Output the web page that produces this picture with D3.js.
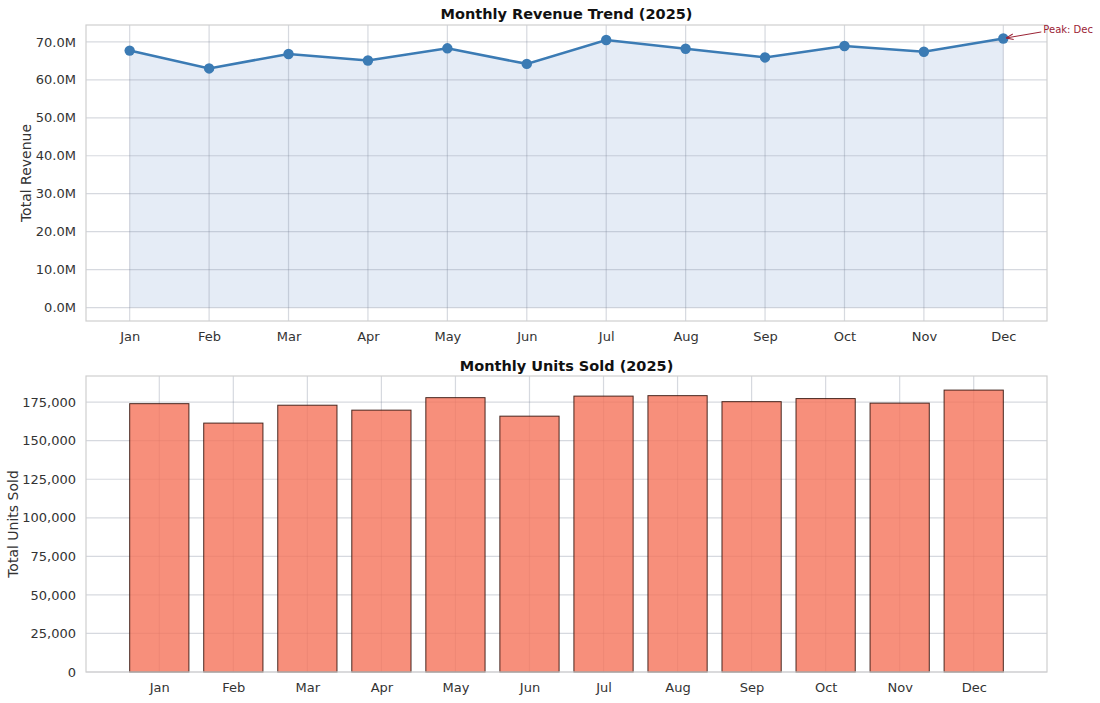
<!DOCTYPE html>
<html>
<head>
<meta charset="utf-8">
<script src="https://cdn.jsdelivr.net/npm/d3@7"></script>
<style>
  body { margin: 0; background: #fff; }
  text { font-family: "DejaVu Sans", sans-serif; }
</style>
</head>
<body>
<svg id="chart" width="1100" height="703"></svg>
<script>
// values
const months = ["Jan", "Feb", "Mar", "Apr", "May", "Jun", "Jul", "Aug", "Sep", "Oct", "Nov", "Dec"];
const revenue = [67.7e6, 63.0e6, 66.8e6, 65.1e6, 68.3e6, 64.2e6, 70.5e6, 68.2e6, 65.9e6, 68.9e6, 67.4e6, 70.9e6];
const units = [174000, 161400, 173000, 169800, 177900, 165900, 178900, 179200, 175300, 177300, 174350, 182800];
const revenueTicks = [0, 10e6, 20e6, 30e6, 40e6, 50e6, 60e6, 70e6];
const unitTicks = [0, 25000, 50000, 75000, 100000, 125000, 150000, 175000];

const svg = d3.select("#chart");
const left = 86, right = 1047;
const gridCol = "rgba(120,130,150,0.3)";

function frame(g, top, bottom) {
    g.append("rect")
        .attr("x", left).attr("y", top)
        .attr("width", right - left).attr("height", bottom - top)
        .attr("fill", "none")
        .attr("stroke", "#cfcfcf")
        .attr("stroke-width", 1.2);
}

function title(txt, y) {
    svg.append("text")
        .attr("x", (left + right) / 2).attr("y", y)
        .attr("text-anchor", "middle")
        .attr("font-size", 14.5).attr("font-weight", "bold")
        .attr("fill", "#111")
        .text(txt);
}

function ylabel(txt, x, cy) {
    svg.append("text")
        .attr("transform", "translate(" + x + "," + cy + ") rotate(-90)")
        .attr("text-anchor", "middle")
        .attr("font-size", 14).attr("fill", "#333")
        .text(txt);
}

// ---------- top: revenue trend ----------
const t1 = 25, b1 = 321;
const x1 = d3.scaleLinear().domain([-0.55, 11.55]).range([left, right]);
const yMax1 = d3.max(revenue);
const y1 = d3.scaleLinear().domain([-0.05 * yMax1, yMax1 * 1.05]).range([b1, t1]);

const g1 = svg.append("g");

const area = d3.area()
    .x((d, i) => x1(i))
    .y0(y1(0))
    .y1(d => y1(d));
g1.append("path")
    .datum(revenue)
    .attr("d", area)
    .attr("fill", "#e5ecf6");

// grid on top of fill, semi transparent
g1.selectAll(".hg").data(revenueTicks).enter().append("line")
    .attr("x1", left).attr("x2", right)
    .attr("y1", d => y1(d)).attr("y2", d => y1(d))
    .attr("stroke", gridCol).attr("stroke-width", 1.2);
g1.selectAll(".vg").data(months).enter().append("line")
    .attr("x1", (d, i) => x1(i)).attr("x2", (d, i) => x1(i))
    .attr("y1", t1).attr("y2", b1)
    .attr("stroke", gridCol).attr("stroke-width", 1.2);
frame(g1, t1, b1);

const line = d3.line().x((d, i) => x1(i)).y(d => y1(d));
g1.append("path")
    .datum(revenue)
    .attr("d", line)
    .attr("fill", "none")
    .attr("stroke", "#3b7bb4")
    .attr("stroke-width", 2.6);
g1.selectAll(".pt").data(revenue).enter().append("circle")
    .attr("cx", (d, i) => x1(i)).attr("cy", d => y1(d))
    .attr("r", 5.2)
    .attr("fill", "#3b7bb4");

const yAxis1 = d3.axisLeft(y1).tickValues(revenueTicks).tickSize(0).tickPadding(10)
    .tickFormat(d => (d / 1e6).toFixed(1) + "M");
g1.append("g").attr("transform", "translate(" + left + ",0)").call(yAxis1)
    .call(a => a.select(".domain").remove())
    .selectAll("text").attr("font-size", 13).attr("fill", "#333")
    .attr("font-family", "DejaVu Sans");
const xAxis1 = d3.axisBottom(x1).tickValues(d3.range(months.length)).tickSize(0).tickPadding(11)
    .tickFormat(i => months[i]);
g1.append("g").attr("transform", "translate(0," + b1 + ")").call(xAxis1)
    .call(a => a.select(".domain").remove())
    .selectAll("text").attr("font-size", 13).attr("fill", "#333")
    .attr("font-family", "DejaVu Sans");

// peak annotation
const peakIdx = d3.maxIndex(revenue);
svg.append("defs").append("marker")
    .attr("id", "arr").attr("viewBox", "0 0 10 10")
    .attr("refX", 10).attr("refY", 5)
    .attr("markerWidth", 7).attr("markerHeight", 7)
    .attr("orient", "auto-start-reverse")
    .append("path").attr("d", "M0,1 L10,5 L0,9").attr("fill", "none")
    .attr("stroke", "#9b2335").attr("stroke-width", 1.4);
const px = x1(peakIdx), py = y1(revenue[peakIdx]);
g1.append("line")
    .attr("x1", px + 38).attr("y1", py - 6.5)
    .attr("x2", px + 3).attr("y2", py - 0.5)
    .attr("stroke", "#9b2335").attr("stroke-width", 1)
    .attr("marker-end", "url(#arr)");
g1.append("text")
    .attr("x", px + 40).attr("y", py - 5)
    .attr("font-size", 10).attr("fill", "#9b2335")
    .text("Peak: " + months[peakIdx]);

title("Monthly Revenue Trend (2025)", 19);
ylabel("Total Revenue", 31, (t1 + b1) / 2);

// ---------- bottom: units sold ----------
const t2 = 376, b2 = 672;
const x2 = d3.scaleLinear().domain([-0.99, 11.99]).range([left, right]);
const yMax2 = d3.max(units);
const y2 = d3.scaleLinear().domain([0, yMax2 * 1.05]).range([b2, t2]);
const bw = x2(0.8) - x2(0);

const g2 = svg.append("g");
g2.selectAll(".hg").data(unitTicks).enter().append("line")
    .attr("x1", left).attr("x2", right)
    .attr("y1", d => y2(d)).attr("y2", d => y2(d))
    .attr("stroke", gridCol).attr("stroke-width", 1.2);
g2.selectAll(".vg").data(months).enter().append("line")
    .attr("x1", (d, i) => x2(i)).attr("x2", (d, i) => x2(i))
    .attr("y1", t2).attr("y2", b2)
    .attr("stroke", gridCol).attr("stroke-width", 1.2);

g2.selectAll(".bar").data(units).enter().append("rect")
    .attr("x", (d, i) => x2(i) - bw / 2)
    .attr("y", d => y2(d))
    .attr("width", bw)
    .attr("height", d => y2(0) - y2(d))
    .attr("fill", "#f5735a").attr("fill-opacity", 0.8)
    .attr("stroke", "#2a0c05").attr("stroke-opacity", 0.85)
    .attr("stroke-width", 1);
frame(g2, t2, b2);

const yAxis2 = d3.axisLeft(y2).tickValues(unitTicks).tickSize(0).tickPadding(10)
    .tickFormat(d3.format(","));
g2.append("g").attr("transform", "translate(" + left + ",0)").call(yAxis2)
    .call(a => a.select(".domain").remove())
    .selectAll("text").attr("font-size", 13).attr("fill", "#333")
    .attr("font-family", "DejaVu Sans");
const xAxis2 = d3.axisBottom(x2).tickValues(d3.range(months.length)).tickSize(0).tickPadding(11)
    .tickFormat(i => months[i]);
g2.append("g").attr("transform", "translate(0," + b2 + ")").call(xAxis2)
    .call(a => a.select(".domain").remove())
    .selectAll("text").attr("font-size", 13).attr("fill", "#333")
    .attr("font-family", "DejaVu Sans");

title("Monthly Units Sold (2025)", 371);
ylabel("Total Units Sold", 18, (t2 + b2) / 2);
</script>
</body>
</html>
